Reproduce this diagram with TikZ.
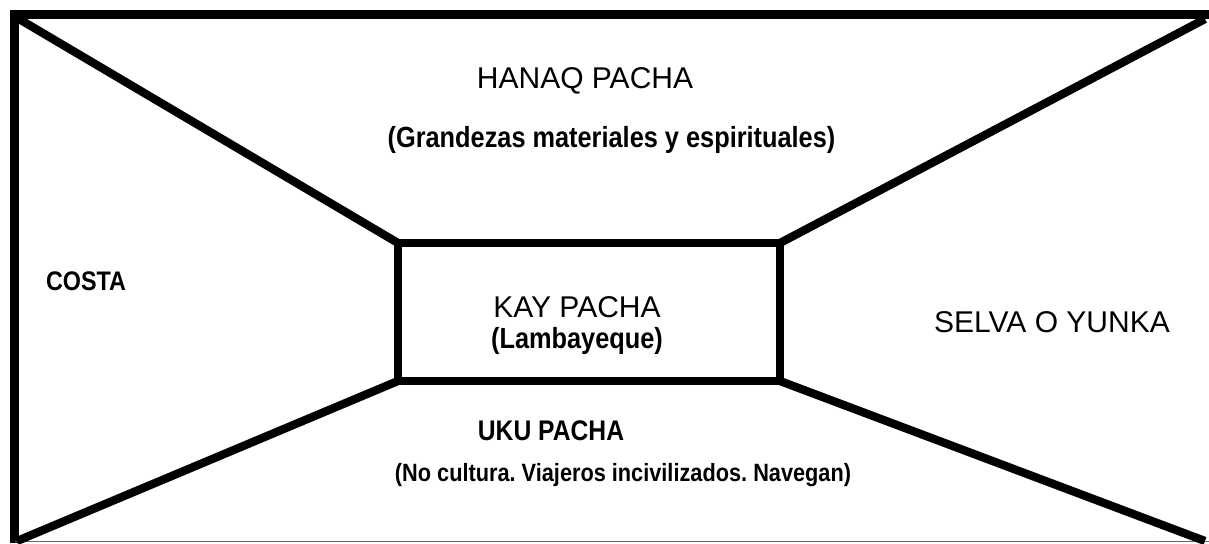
\documentclass[tikz,border=0pt]{standalone}
\usepackage{fontspec}
\setmainfont{Liberation Sans}
\newcommand{\tallbold}[1]{\scalebox{1}[1.15]{#1}}
\begin{document}
\frenchspacing
\begin{tikzpicture}[x=0.75pt,y=-0.75pt,
  label reg/.style={anchor=base,inner sep=0pt,font=\fontsize{22.5}{26}\selectfont},
  label bold/.style={anchor=base,inner sep=0pt,font=\bfseries\fontsize{19}{23}\selectfont}]
\useasboundingbox (0,0) rectangle (1209,543);
% inner box corners
\coordinate (btl) at (398,243);
\coordinate (btr) at (780,243);
\coordinate (bbl) at (398,381);
\coordinate (bbr) at (780,381);
% outer corner points of diagonals
\coordinate (dtl) at (19,19);
\coordinate (dtr) at (1205,19);
\coordinate (dbl) at (17,541);
\coordinate (dbr) at (1205,541);
% frame
\draw[line width=6.75pt] (1209,14.5) -- (10,14.5);
\draw[line width=6.75pt] (14.5,10) -- (14.5,543);
\draw[line width=1.2pt,black!60] (15,541.5) -- (1209,541.5);
% diagonals
\draw[line width=6.2pt] (dtl) -- (btl);
\draw[line width=6.2pt] (dtr) -- (btr);
\draw[line width=6.2pt] (dbl) -- (bbl);
\draw[line width=6.2pt] (dbr) -- (bbr);
% inner box
\draw[line width=6.2pt,line join=miter] (btl) rectangle (bbr);
% texts
\node[label reg] (hanaq) at (585,88) {HANAQ PACHA};
\node[label bold] (grand) at (611.5,147) {\tallbold{(Grandezas materiales y espirituales)}};
\node[label reg] (kay) at (577,317) {KAY PACHA};
\node[label bold] (lamb) at (577,348) {\tallbold{(Lambayeque)}};
\node[label bold,font=\bfseries\fontsize{17.5}{21}\selectfont] (costa) at (86,290) {\tallbold{COSTA}};
\node[label reg] (selva) at (1052,332) {SELVA O YUNKA};
\node[label bold,font=\bfseries\fontsize{18.5}{22}\selectfont] (uku) at (551,440) {\tallbold{UKU PACHA}};
\node[label bold,font=\bfseries\fontsize{16.3}{20}\selectfont] (nocult) at (623,481) {\tallbold{(No cultura. Viajeros incivilizados. Navegan)}};
\end{tikzpicture}
\end{document}
